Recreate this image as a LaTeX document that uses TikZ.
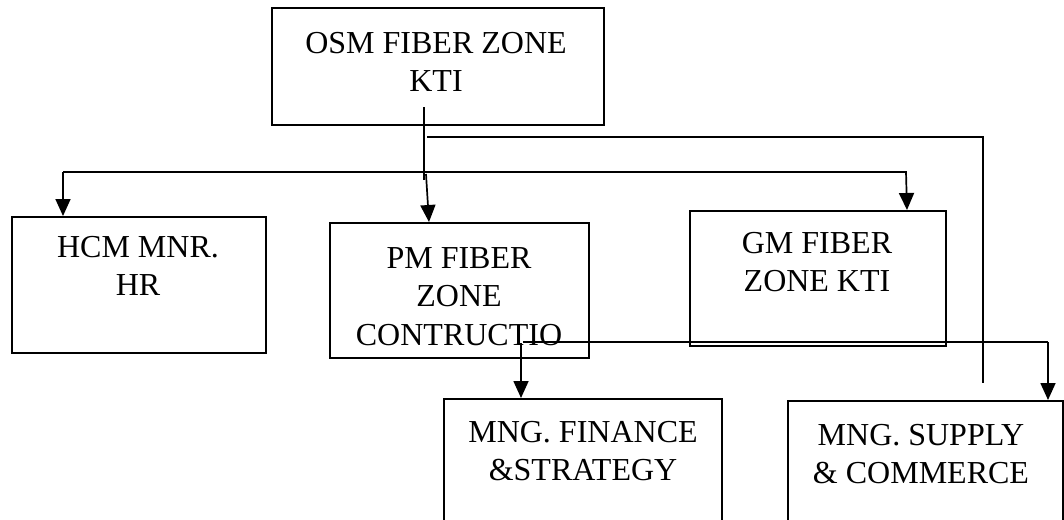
\documentclass[tikz,border=0pt]{standalone}
\usepackage{fontspec}
\setmainfont{Liberation Serif}
\usetikzlibrary{arrows.meta}
\begin{document}
\begin{tikzpicture}[x=1pt,y=-1pt,
  box/.style={draw, line width=1.9pt, rectangle, inner sep=0pt, anchor=north west},
  lbl/.style={font=\fontsize{32}{38.5}\selectfont, align=center, anchor=north, inner sep=0pt},
  conn/.style={line width=1.7pt},
  arr/.style={conn, -{Triangle[width=15pt,length=17pt]}},
]
\clip (0,0) rectangle (1064,519);
\useasboundingbox (0,0) rectangle (1064,519);

% boxes
\node[box, minimum width=332pt, minimum height=117pt] (osm) at (271,7) {};
\node[box, minimum width=254pt, minimum height=136pt] (hcm) at (11,216) {};
\node[box, minimum width=259pt, minimum height=135pt] (pm) at (329,222) {};
\node[box, minimum width=256pt, minimum height=135pt] (gm) at (689,210) {};
\node[box, minimum width=278pt, minimum height=140pt] (fin) at (443,398) {};
\node[box, minimum width=275pt, minimum height=140pt] (sup) at (787,400) {};

% texts
\node[lbl] (osmt) at (436,32) {OSM FIBER ZONE\\KTI};
\node[lbl] (hcmt) at (138,236) {HCM MNR.\\HR};
\node[lbl] (pmt) at (459,247) {PM FIBER\\ZONE\\CONTRUCTIO};
\node[lbl] (gmt) at (817,232) {GM FIBER\\ZONE KTI};
\node[lbl] (fint) at (583,421) {MNG. FINANCE\\\&STRATEGY};
\node[lbl] (supt) at (921,424) {MNG. SUPPLY\\\& COMMERCE};

% connectors
\coordinate (t1) at (424,107);
\coordinate (t2) at (424,180);
\draw[conn] (t1) -- (t2);
\coordinate (a1) at (426,174);
\coordinate (a2) at (429,222);
\draw[arr] (a1) -- (a2);

\coordinate (h1) at (63,172);
\coordinate (h2) at (907,172);
\draw[conn] (h1) -- (h2);
\draw[arr] (h1) -- (hcm.north -| h1);
\draw[arr] ([xshift=-1pt]h2) -- (gm.north -| h2);

\coordinate (r1) at (427,137);
\coordinate (r2) at (983,383);
\draw[conn] (r1) -| (r2);

\coordinate (p1) at (523,342);
\coordinate (s1) at (1048,342);
\draw[conn] (p1) -- (s1);
\draw[arr] (s1) -- (sup.north -| s1);

\coordinate (f1) at (521,343);
\draw[arr] (f1) -- (fin.north -| f1);
\end{tikzpicture}
\end{document}
